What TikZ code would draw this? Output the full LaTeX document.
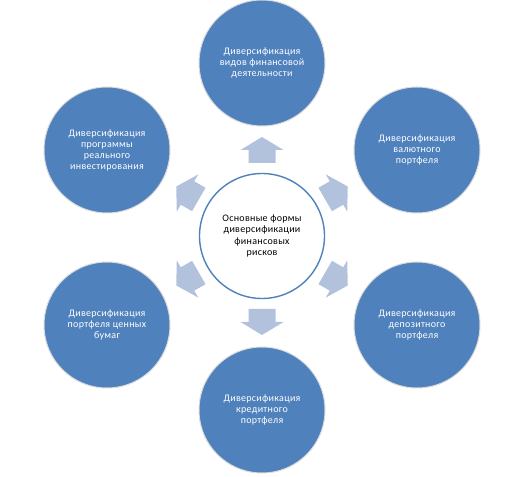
\documentclass[tikz,border=0pt]{standalone}
\usepackage{fontspec}
\setmainfont{Carlito}
\newfontfamily\diagfont[LetterSpace=3]{Carlito}
\definecolor{blueA}{HTML}{4F81BD}
\definecolor{rimgray}{HTML}{DADADA}
\definecolor{arrowc}{HTML}{B2C1DC}
\begin{document}
\begin{tikzpicture}[x=1pt,y=1pt,
  outer/.style={circle, minimum size=126pt, inner sep=0pt, fill=blueA, draw=rimgray,
    line width=1pt, text=white, font=\diagfont\fontsize{10}{11}\selectfont, align=center},
  core/.style={circle, minimum size=125pt, inner sep=0pt, fill=white, draw=blueA,
    line width=1.4pt, text=black, font=\diagfont\fontsize{10}{11.3}\selectfont, align=center},
  barrow/.style={fill=arrowc}]
\useasboundingbox (0,0) rectangle (524,476);
\node[core] (c) at (262,240) {Основные формы\\диверсификации\\финансовых\\рисков};
\node[outer] (top) at (262,413) {Диверсификация\\видов финансовой\\деятельности};
\node[outer] (rt) at (417,326) {Диверсификация\\валютного\\портфеля};
\node[outer] (rb) at (417,151) {Диверсификация\\депозитного\\портфеля};
\node[outer] (bot) at (262,66) {Диверсификация\\кредитного\\портфеля};
\node[outer] (lb) at (107,151) {Диверсификация\\портфеля ценных\\бумаг};
\node[outer] (lt) at (107,326) {Диверсификация\\программы\\реального\\инвестирования};
\foreach \a in {90,30,-30,-90,-150,150}
  \fill[barrow, shift={(c.center)}, rotate=\a]
    (73,-13.5) -- (86,-13.5) -- (86,-21.5) -- (99,0) -- (86,21.5) -- (86,13.5) -- (73,13.5) -- cycle;
\end{tikzpicture}
\end{document}
